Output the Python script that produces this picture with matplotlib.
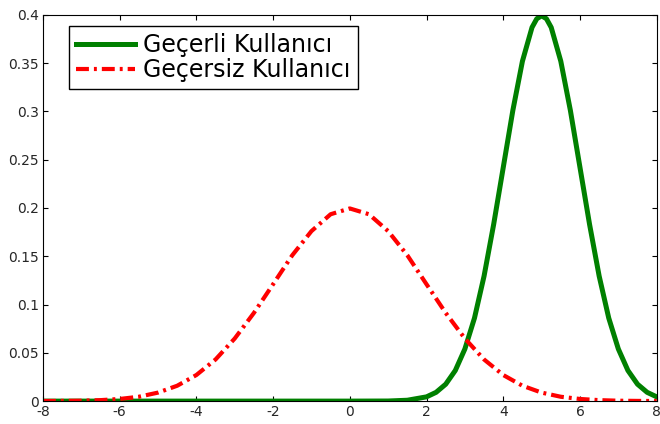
import numpy as np
import matplotlib
matplotlib.use('Agg')
import matplotlib.pyplot as plt
from matplotlib.ticker import FormatStrFormatter, MultipleLocator

plt.rcParams['font.family'] = ['DejaVu Sans']
plt.rcParams['axes.unicode_minus'] = False

# values
x_valid = [-8, -6, -4, -2, 0, 1, 1.5, 2, 2.25, 2.5, 2.75, 3, 3.25, 3.5, 3.75, 4,
           4.25, 4.5, 4.75, 4.875, 5, 5.125, 5.25, 5.5, 5.75, 6, 6.25, 6.5,
           6.75, 7, 7.25, 7.5, 7.75, 8]
y_valid = [0, 0, 0, 0, 0, 0.0001, 0.0009, 0.0044, 0.0091, 0.0175, 0.0317,
           0.054, 0.086, 0.1295, 0.183, 0.242, 0.301, 0.352, 0.387, 0.396,
           0.399, 0.396, 0.387, 0.352, 0.301, 0.242, 0.183, 0.1295, 0.086,
           0.054, 0.0317, 0.0175, 0.0091, 0.0044]

x_invalid = [-8, -7.5, -7, -6.5, -6, -5.5, -5, -4.5, -4, -3.5, -3, -2.5, -2,
             -1.5, -1, -0.5, 0, 0.5, 1, 1.5, 2, 2.5, 3, 3.5, 4, 4.5, 5, 5.5,
             6, 6.5, 7, 7.5, 8]
y_invalid = [0.0001, 0.0002, 0.0004, 0.001, 0.0022, 0.0045, 0.0088, 0.0159,
             0.027, 0.0431, 0.0648, 0.0913, 0.121, 0.151, 0.176, 0.1935, 0.1995,
             0.1935, 0.176, 0.151, 0.121, 0.0913, 0.0648, 0.0431, 0.027, 0.0159,
             0.0088, 0.0045, 0.0022, 0.001, 0.0004, 0.0002, 0.0001]

labels = ['Geçerli Kullanıcı', 'Geçersiz Kullanıcı']

fig = plt.figure(figsize=(6.6, 4.24), dpi=100)
ax = fig.add_axes([0.065, 0.054, 0.93, 0.911])

ax.plot(x_valid, y_valid, color='#008000', lw=3.6, label=labels[0])
ax.plot(x_invalid, y_invalid, color='#ff0000', lw=3.0, dashes=(3.1, 1.2, 0.7, 1.2),
        label=labels[1])

ax.set_xlim(-8, 8)
ax.set_ylim(0, 0.4)
ax.xaxis.set_major_locator(MultipleLocator(2))
ax.yaxis.set_major_locator(MultipleLocator(0.05))
ax.yaxis.set_major_formatter(FormatStrFormatter('%g'))
ax.tick_params(direction='in', top=True, right=True, length=3.5, labelsize=10,
               width=0.8, labelcolor='#262626', pad=3)
for s in ax.spines.values():
    s.set_linewidth(0.8)

leg = ax.legend(loc='upper left', bbox_to_anchor=(0.042, 0.9715), fancybox=False,
                edgecolor='black', framealpha=1, handlelength=2.5,
                prop={'size': 17}, borderpad=0.3,
                labelspacing=0.05, handletextpad=0.35, borderaxespad=0)
leg.get_frame().set_linewidth(1.0)

fig.savefig('out.png', dpi=100)
